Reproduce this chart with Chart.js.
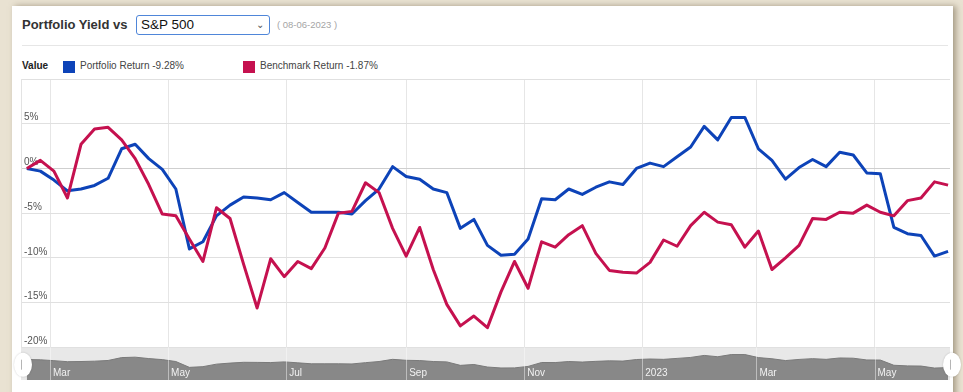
<!DOCTYPE html>
<html>
<head>
<meta charset="utf-8">
<title>Portfolio Yield vs S&amp;P 500</title>
<script src="https://cdn.jsdelivr.net/npm/chart.js@4.4.0/dist/chart.umd.min.js"></script>
<style>
  html, body { margin: 0; padding: 0; }
  body {
    width: 963px; height: 392px; overflow: hidden; position: relative;
    background: #e9e2d2;
    font-family: "Liberation Sans", Arial, sans-serif;
  }
  #panel {
    position: absolute; left: 12px; top: 6px; width: 941px; height: 400px;
    background: #fff; box-shadow: 3px 0 6px rgba(110, 95, 70, 0.55);
  }
  .abs { position: absolute; white-space: nowrap; }
  #title { left: 22px; top: 17px; font-size: 13px; line-height: 16px; font-weight: bold; color: #333; }
  #picker {
    left: 136px; top: 15px; width: 134px; height: 20px; box-sizing: border-box;
    border: 1px solid #4f86d9; border-radius: 3px; font-size: 13.5px; line-height: 18px;
    color: #111; padding-left: 4px;
  }
  #picker .chev { position: absolute; right: 5px; top: 0; font-size: 10px; color: #555; }
  #asof { left: 277px; top: 19px; font-size: 9.5px; line-height: 12px; color: #a5a5a5; }
  #sep { left: 22px; top: 45px; width: 926px; height: 1px; background: #e6e6e6; }
  .leg { top: 60px; font-size: 10px; line-height: 12px; color: #444; }
  .sw { top: 61px; width: 12px; height: 12px; }
  #chartBox { position: absolute; left: 0; top: 70px; width: 963px; height: 322px; }
</style>
</head>
<body>
<div id="panel"></div>
<div id="title" class="abs">Portfolio Yield vs</div>
<div id="picker" class="abs">S&amp;P 500<span class="chev">&#8964;</span></div>
<div id="asof" class="abs"></div>
<div id="sep" class="abs"></div>
<div class="abs leg" style="left:22px;font-weight:bold;color:#222">Value</div>
<div id="swP" class="abs sw" style="left:63px"></div>
<div id="legP" class="abs leg" style="left:80px"></div>
<div id="swB" class="abs sw" style="left:243px"></div>
<div id="legB" class="abs leg" style="left:260px"></div>
<div id="chartBox"><canvas id="yieldChart" width="963" height="322"></canvas></div>

<script>
// weekly observations
const weekDates = [
  '2022-02-17','2022-02-24',
  '2022-03-03','2022-03-10','2022-03-17','2022-03-24','2022-03-31',
  '2022-04-07','2022-04-14','2022-04-21','2022-04-28',
  '2022-05-05','2022-05-12','2022-05-19','2022-05-26',
  '2022-06-02','2022-06-09','2022-06-16','2022-06-23','2022-06-30',
  '2022-07-07','2022-07-14','2022-07-21','2022-07-28',
  '2022-08-04','2022-08-11','2022-08-18','2022-08-25',
  '2022-09-01','2022-09-08','2022-09-15','2022-09-22','2022-09-29',
  '2022-10-06','2022-10-13','2022-10-20','2022-10-27',
  '2022-11-03','2022-11-10','2022-11-17','2022-11-24',
  '2022-12-01','2022-12-08','2022-12-15','2022-12-22','2022-12-29',
  '2023-01-05','2023-01-12','2023-01-19','2023-01-26',
  '2023-02-02','2023-02-09','2023-02-16','2023-02-23',
  '2023-03-02','2023-03-09','2023-03-16','2023-03-23','2023-03-30',
  '2023-04-06','2023-04-13','2023-04-20','2023-04-27',
  '2023-05-04','2023-05-11','2023-05-18','2023-05-25',
  '2023-06-01','2023-06-08'
];

// cumulative return, %
const portfolio = [
  0, -0.3, -1.3, -2.5, -2.3, -1.9, -1.1, 2.2, 2.7, 1.1,
  -0.1, -2.3, -9.0, -8.2, -5.3, -4.1, -3.2, -3.3, -3.5, -2.7,
  -3.8, -4.9, -4.9, -4.9, -5.1, -3.6, -2.3, 0.2, -0.9, -1.2,
  -2.3, -2.7, -6.7, -5.7, -8.6, -9.7, -9.6, -7.9, -3.4, -3.5,
  -2.3, -2.9, -2.1, -1.5, -1.8, 0.0, 0.6, 0.2, 1.3, 2.4,
  4.7, 3.2, 5.7, 5.7, 2.2, 0.9, -1.2, 0.1, 1.0, 0.2,
  1.8, 1.5, -0.5, -0.6, -6.6, -7.3, -7.5, -9.8, -9.28
];
const benchmark = [
  0, 0.9, -0.3, -3.3, 2.7, 4.4, 4.6, 3.2, 1.1, -1.8,
  -5.1, -5.3, -7.9, -10.4, -4.4, -5.6, -10.7, -15.6, -10.1, -12.1,
  -10.4, -11.2, -8.9, -5.0, -4.8, -1.6, -2.7, -6.7, -9.8, -6.6,
  -11.3, -15.2, -17.6, -16.5, -17.8, -13.8, -10.4, -13.4, -8.2, -8.8,
  -7.4, -6.4, -9.5, -11.4, -11.6, -11.7, -10.5, -8.0, -8.7, -6.4,
  -4.9, -6.0, -6.3, -8.8, -7.0, -11.3, -10.0, -8.6, -5.6, -5.7,
  -4.9, -5.0, -4.1, -4.9, -5.3, -3.6, -3.3, -1.5, -1.87
];

const monthTickDates = ['2022-03-01','2022-05-01','2022-07-01','2022-09-01','2022-11-01','2023-01-01','2023-03-01','2023-05-01'];
const monthTickLabels = ['Mar','May','Jul','Sep','Nov','2023','Mar','May'];
const yTicks = [-20, -15, -10, -5, 0, 5, 10];

const BLUE = '#0d43b8';
const RED = '#c5114f';

const toDay = s => Date.parse(s + 'T00:00:00Z') / 86400000;
const days = weekDates.map(toDay);
const tickDays = monthTickDates.map(toDay);

// header + legend
const last = weekDates[weekDates.length - 1].split('-');
document.getElementById('asof').textContent = '( ' + last[2] + '-' + last[1] + '-' + last[0] + ' )';
document.getElementById('swP').style.background = BLUE;
document.getElementById('swB').style.background = RED;
document.getElementById('legP').textContent = 'Portfolio Return ' + portfolio[portfolio.length - 1].toFixed(2) + '%';
document.getElementById('legB').textContent = 'Benchmark Return ' + benchmark[benchmark.length - 1].toFixed(2) + '%';

const pts = arr => arr.map((v, i) => ({ x: days[i], y: v }));

// navigator band: background, separators and drag handles
const navigatorPlugin = {
  id: 'navigator',
  beforeDraw(chart) {
    const nav = chart.scales.yNav, area = chart.chartArea, ctx = chart.ctx;
    ctx.save();
    ctx.fillStyle = '#e8e8e8';
    ctx.fillRect(area.left, nav.top, area.right - area.left, nav.bottom - nav.top);
    ctx.restore();
  },
  afterDatasetsDraw(chart) {
    const nav = chart.scales.yNav, x = chart.scales.x, ctx = chart.ctx;
    ctx.save();
    ctx.strokeStyle = 'rgba(255,255,255,0.45)';
    ctx.lineWidth = 1;
    x.ticks.forEach(t => {
      const px = Math.round(x.getPixelForValue(t.value)) + 0.5;
      ctx.beginPath();
      ctx.moveTo(px, nav.top);
      ctx.lineTo(px, nav.bottom);
      ctx.stroke();
    });
    ctx.restore();
  },
  afterDraw(chart) {
    const nav = chart.scales.yNav, area = chart.chartArea, ctx = chart.ctx;
    const cy = (nav.top + nav.bottom) / 2 + 1;
    ctx.save();
    [area.left + 2, area.right + 2].forEach(cx => {
      ctx.beginPath();
      ctx.ellipse(cx, cy, 9, 12, 0, 0, Math.PI * 2);
      ctx.fillStyle = '#ffffff';
      ctx.shadowColor = 'rgba(0,0,0,0.2)';
      ctx.shadowBlur = 2;
      ctx.fill();
      ctx.shadowBlur = 0;
      ctx.strokeStyle = '#b5b5b5';
      ctx.beginPath();
      ctx.moveTo(cx - 1.5, cy - 5);
      ctx.lineTo(cx - 1.5, cy + 5);
      ctx.stroke();
    });
    ctx.restore();
  }
};

Chart.defaults.font.family = '"Liberation Sans", Arial, sans-serif';

new Chart(document.getElementById('yieldChart'), {
  type: 'line',
  data: {
    datasets: [
      {
        label: 'Portfolio Return',
        data: pts(portfolio),
        yAxisID: 'y',
        borderColor: BLUE,
        borderWidth: 3,
        borderJoinStyle: 'round',
        pointRadius: 0,
        tension: 0,
        order: 1
      },
      {
        label: 'Benchmark Return',
        data: pts(benchmark),
        yAxisID: 'y',
        borderColor: RED,
        borderWidth: 3,
        borderJoinStyle: 'round',
        pointRadius: 0,
        tension: 0,
        order: 0
      },
      {
        label: 'navigator',
        data: pts(portfolio),
        yAxisID: 'yNav',
        borderColor: '#7a7a7a',
        borderWidth: 1,
        backgroundColor: '#888888',
        fill: 'start',
        pointRadius: 0,
        tension: 0,
        order: 2
      }
    ]
  },
  options: {
    responsive: false,
    animation: false,
    layout: { padding: { left: 15, right: 13, top: 6, bottom: 12 } },
    plugins: {
      legend: { display: false },
      tooltip: { enabled: false }
    },
    scales: {
      x: {
        type: 'linear',
        min: days[0] - 3,
        max: days[days.length - 1] + 1,
        afterBuildTicks: scale => { scale.ticks = tickDays.map(v => ({ value: v })); },
        grid: { color: '#e6e6e6', drawTicks: false },
        border: { display: false },
        ticks: {
          z: 1,
          autoSkip: false,
          maxRotation: 0,
          align: 'start',
          labelOffset: 3,
          padding: -13,
          color: '#f2f2f2',
          font: { size: 10 },
          callback: (v, i) => monthTickLabels[i]
        }
      },
      y: {
        position: 'left',
        stack: 'main',
        stackWeight: 271,
        weight: 1,
        min: -20,
        max: 10,
        afterBuildTicks: scale => { scale.ticks = yTicks.map(v => ({ value: v })); },
        grid: {
          drawTicks: false,
          color: ctx => (ctx.tick && ctx.tick.value === 0 ? '#cfcfcf' : '#e0e0e0')
        },
        border: { display: true, color: '#e3e3e3' },
        ticks: {
          mirror: true,
          padding: 3,
          labelOffset: -6,
          color: '#555',
          font: { size: 10 },
          callback: v => (v >= 10 ? '' : v + '%')
        }
      },
      yNav: {
        position: 'left',
        stack: 'main',
        stackWeight: 33,
        weight: 0,
        min: -23.5,
        max: 14,
        display: false
      }
    }
  },
  plugins: [navigatorPlugin]
});
</script>
</body>
</html>
